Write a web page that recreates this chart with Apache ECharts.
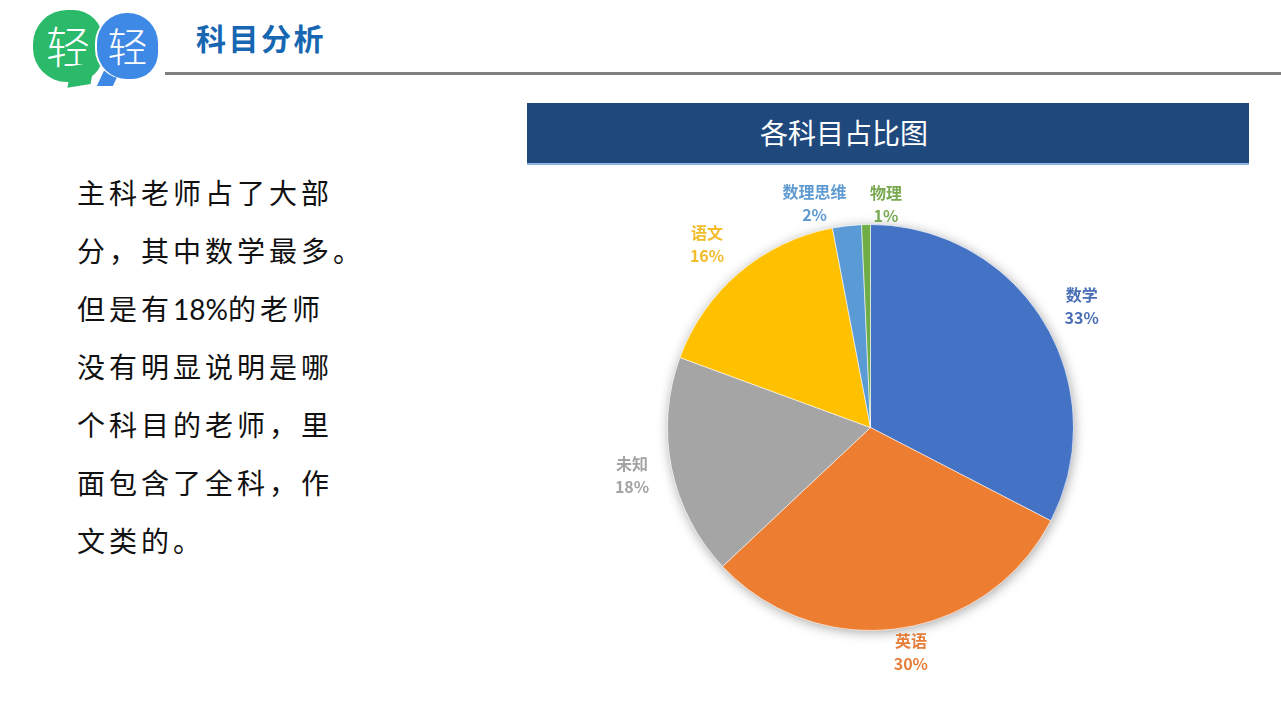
<!DOCTYPE html>
<html>
<head>
<meta charset="utf-8">
<script src="https://cdn.jsdelivr.net/npm/echarts@6/dist/echarts.min.js"></script>
<style>
  html, body { margin: 0; padding: 0; background: #fff; }
  body { width: 1281px; height: 720px; position: relative; overflow: hidden; font-family: "Noto Sans CJK SC", sans-serif; }
  .bubble { position: absolute; color: #fff; text-align: center; font-weight: 300; }
  .green { left: 33px; top: 10px; width: 70px; height: 72px; background: #2BB96A; border-radius: 34px 30px 28px 34px; font-size: 44px; line-height: 70px; z-index: 1; }
  .green-tail { position: absolute; left: 70px; top: 64px; width: 22px; height: 22px; background: #2BB96A; transform: skewX(-20deg) rotate(-10deg); z-index: 1; }
  .blue { left: 97px; top: 13px; width: 61px; height: 66px; background: #3F89E6; border-radius: 30px 30px 26px 30px; font-size: 40px; line-height: 64px; z-index: 3; box-shadow: -2px 0 0 #fff; }
  .blue-tail { position: absolute; left: 102px; top: 64px; width: 16px; height: 22px; background: #3F89E6; transform: skewX(-25deg); z-index: 2; }
  .hdr { position: absolute; left: 196px; top: 16px; font-size: 30px; font-weight: 700; color: #1666B2; letter-spacing: 2.5px; line-height: 42px; }
  .rule { position: absolute; left: 165px; top: 72px; width: 1116px; height: 3px; background: #808080; }
  .body { position: absolute; left: 77px; top: 164px; font-size: 28px; line-height: 57.8px; letter-spacing: 4px; color: #111; }
  .body .lat { font-family: Lato, "Open Sans", sans-serif; letter-spacing: 0; }
  .tbar { position: absolute; left: 527px; top: 103px; width: 722px; height: 62px; background: #1F497D; border-bottom: 2px solid #8DB4E2; box-sizing: border-box; }
  .ttxt { position: absolute; left: 527px; top: 103px; width: 634px; height: 60px; text-align: center; color: #fff; font-size: 28px; line-height: 58px; }
  #chart { position: absolute; left: 0; top: 0; width: 1281px; height: 720px; z-index: 5; }
</style>
</head>
<body>
<div class="bubble green">轻</div>
<div class="green-tail"></div>
<div class="bubble blue">轻</div>
<div class="blue-tail"></div>
<div class="hdr">科目分析</div>
<div class="rule"></div>
<div class="body">主科老师占了大部<br>分，其中数学最多。<br>但是有<span class="lat">18%</span>的老师<br>没有明显说明是哪<br>个科目的老师，里<br>面包含了全科，作<br>文类的。</div>
<div class="tbar"></div>
<div class="ttxt">各科目占比图</div>
<div id="chart"></div>
<script>
const categories = ['数学', '英语', '未知', '语文', '数理思维', '物理'];
const values = [32.6, 30.4, 17.6, 16.4, 2.3, 0.7];
const colors = ['#4472C4', '#ED7D31', '#A5A5A5', '#FFC000', '#5B9BD5', '#70AD47'];
const labelColors = ['#4A6FB5', '#E57E3A', '#A3A3A3', '#F2BC2A', '#5F9AD0', '#78A950'];
const labelOffsets = [[-2, 9], [6, -22], [6, -2], [-2, 7], [-27, 24], [21, 26]];

const total = values.reduce((a, b) => a + b, 0);
const center = [870.5, 427.5];
const R = 203;

const chart = echarts.init(document.getElementById('chart'), null, { renderer: 'canvas' });
chart.setOption({
  animation: false,
  backgroundColor: 'transparent',
  series: [
    {
      type: 'pie', silent: true, center: center, radius: R, z: 1,
      label: { show: false }, labelLine: { show: false },
      itemStyle: { color: '#ffffff', shadowBlur: 12, shadowColor: 'rgba(0,0,0,0.35)', shadowOffsetX: 1, shadowOffsetY: 2 },
      data: [{ name: 'bg', value: total }]
    },
    {
      type: 'pie', silent: true, center: center, radius: R, z: 2,
      startAngle: 90, clockwise: true,
      label: { show: false }, labelLine: { show: false },
      itemStyle: { borderColor: 'rgba(255,255,255,0.7)', borderWidth: 0.8 },
      data: categories.map((c, i) => ({ name: c, value: values[i], itemStyle: { color: colors[i] } }))
    },
    {
      type: 'pie', silent: true, center: center, radius: [R, 290], z: 3,
      startAngle: 90, clockwise: true, percentPrecision: 0,
      labelLine: { show: false },
      itemStyle: { color: 'rgba(0,0,0,0)' },
      label: {
        show: true, position: 'inside', formatter: '{b}\n{d}%',
        fontFamily: 'Noto Sans CJK SC', fontWeight: 'bold', fontSize: 16, lineHeight: 23,
        textBorderWidth: 0, align: 'center'
      },
      data: categories.map((c, i) => ({
        name: c, value: values[i],
        label: { color: labelColors[i], offset: labelOffsets[i] }
      }))
    }
  ]
});
</script>
</body>
</html>
